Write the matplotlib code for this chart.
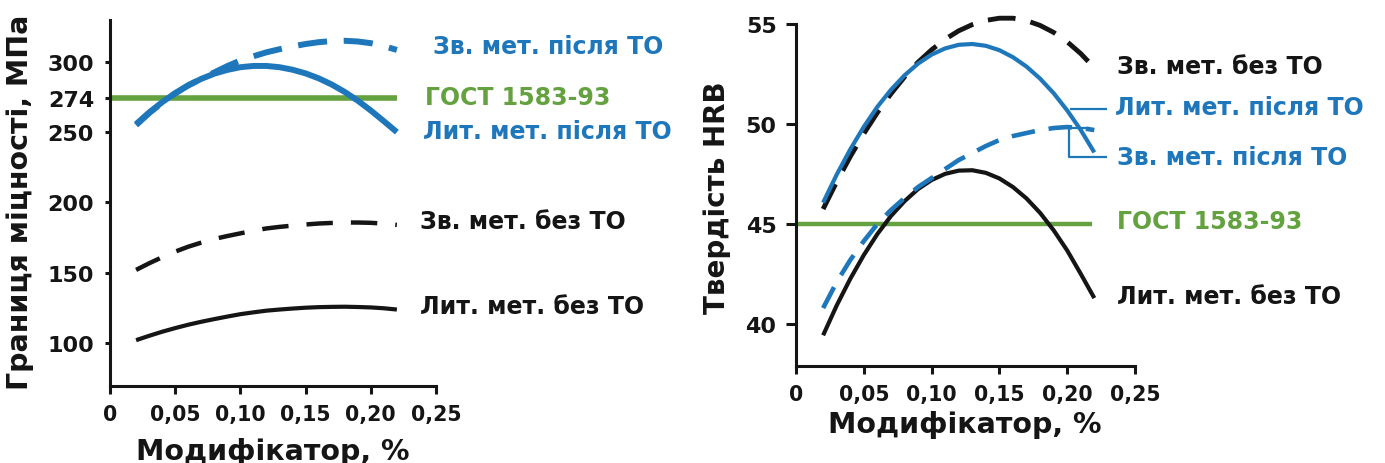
import numpy as np
import matplotlib
matplotlib.use('Agg')
from matplotlib import pyplot as plt

plt.rcParams['font.family'] = ['DejaVu Sans']
plt.rcParams['font.weight'] = 'bold'
plt.rcParams['lines.scale_dashes'] = False
plt.rcParams['lines.solid_capstyle'] = 'butt'
plt.rcParams['lines.solid_joinstyle'] = 'round'

BLUE = '#1f77bb'
GREEN = '#63a23f'
BLACK = '#151515'

# Модифікатор, %
x_mod = [0.02, 0.03, 0.04, 0.05, 0.06, 0.07, 0.08, 0.09, 0.10, 0.11, 0.12,
         0.13, 0.14, 0.15, 0.16, 0.17, 0.18, 0.19, 0.20, 0.21, 0.22]

# ліва панель: границя міцності, МПа
lit_bez_to = [102, 105.1, 108, 110.6, 113, 115.1, 117, 118.8, 120.5, 121.8, 123,
              123.8, 124.5, 125.1, 125.5, 125.7, 125.8, 125.6, 125.3, 124.7, 123.8]
zv_bez_to = [152, 156.7, 161, 165, 168.5, 171.4, 174, 176.1, 178, 179.9, 181.5,
             182.6, 183.5, 184.3, 185, 185.4, 185.7, 185.7, 185.5, 184.9, 184]
lit_pislya_to = [255.7, 264, 271.3, 277.8, 283.3, 287.9, 291.6, 294.3, 296.2, 297.1, 297.1,
                 296.2, 294.4, 291.8, 288.3, 283.9, 278.6, 272.4, 265.4, 257.8, 250]
zv_pislya_to = [255, 263.5, 271, 277.5, 283.3, 288, 292.5, 297, 301, 304, 306.8,
                309, 311, 312.7, 314, 314.8, 315, 314.5, 313.3, 311.2, 308.5]
gost_mpa = 274

# права панель: твердість HRB
hrb_lit_bez_to = [39.44, 40.93, 42.26, 43.45, 44.5, 45.4, 46.14, 46.75, 47.2, 47.51, 47.67,
                  47.69, 47.56, 47.28, 46.85, 46.28, 45.56, 44.69, 43.68, 42.51, 41.3]
hrb_zv_bez_to = [45.75, 47.11, 48.37, 49.52, 50.57, 51.51, 52.35, 53.09, 53.71, 54.24, 54.66,
                 54.97, 55.18, 55.29, 55.29, 55.17, 54.93, 54.58, 54.11, 53.52, 52.81]
hrb_lit_pislya_to = [46.07, 47.47, 48.73, 49.86, 50.86, 51.71, 52.43, 53.02, 53.47, 53.78, 53.96,
                     54.0, 53.91, 53.69, 53.34, 52.87, 52.27, 51.54, 50.68, 49.7, 48.58]
hrb_zv_pislya_to = [40.8, 42.1, 43.2, 44.15, 45.0, 45.7, 46.3, 46.85, 47.3, 47.75, 48.2,
                    48.55, 48.9, 49.2, 49.4, 49.55, 49.7, 49.8, 49.85, 49.8, 49.7]
gost_hrb = 45

x_ticks = [0, 0.05, 0.10, 0.15, 0.20, 0.25]
x_tick_labels = ['0', '0,05', '0,10', '0,15', '0,20', '0,25']
y_ticks_mpa = [100, 150, 200, 250, 274, 300]
y_ticks_hrb = [40, 45, 50, 55]

W, H = 1385, 464
fig = plt.figure(figsize=(W / 100, H / 100), dpi=100)


def px_axes(x0, x1, ytop, ybot):
    return fig.add_axes([x0 / W, 1 - ybot / H, (x1 - x0) / W, (ybot - ytop) / H])


def style(ax, yticks, ylen, ypad):
    for s in ['top', 'right']:
        ax.spines[s].set_visible(False)
    for s in ['left', 'bottom']:
        ax.spines[s].set_linewidth(2.2)
        ax.spines[s].set_color(BLACK)
    ax.set_xlim(0, 0.25)
    ax.set_xticks(x_ticks)
    ax.set_xticklabels(x_tick_labels)
    ax.set_yticks(yticks)
    ax.tick_params(direction='out', width=2.2, colors=BLACK)
    ax.tick_params(axis='x', length=6, labelsize=14.8, pad=7)
    ax.tick_params(axis='y', length=ylen, labelsize=16, pad=ypad)
    ax.patch.set_alpha(0)


# --- ліва панель
ax1 = px_axes(110, 436, 20.7, 387)
ax1.set_ylim(69.4, 330)
style(ax1, y_ticks_mpa, 3.5, 8)
ax1.plot([0, 0.22], [gost_mpa, gost_mpa], color=GREEN, lw=4, zorder=1)
ax1.plot(x_mod, lit_bez_to, color=BLACK, lw=3)
ax1.plot(x_mod, zv_bez_to, color=BLACK, lw=3.2, dashes=(19, 13))
ax1.plot(x_mod, zv_pislya_to, color=BLUE, lw=4.3, dashes=(21, 12))
ax1.plot(x_mod, lit_pislya_to, color=BLUE, lw=4.3)

fs = 17
ax1.text(0.2477, 311, 'Зв. мет. після ТО', color=BLUE, fontsize=fs, va='center', clip_on=False)
ax1.text(0.2416, 274.8, 'ГОСТ 1583-93', color=GREEN, fontsize=fs, va='center', clip_on=False)
ax1.text(0.2400, 250.7, 'Лит. мет. після ТО', color=BLUE, fontsize=fs, va='center', clip_on=False)
ax1.text(0.2377, 186.7, 'Зв. мет. без ТО', color=BLACK, fontsize=fs, va='center', clip_on=False)
ax1.text(0.2377, 126.3, 'Лит. мет. без ТО', color=BLACK, fontsize=fs, va='center', clip_on=False)

# --- права панель
ax2 = px_axes(796, 1135, 25, 366.7)
ax2.set_ylim(37.92, 55)
style(ax2, y_ticks_hrb, 7, 7)
ax2.plot([0, 0.218], [gost_hrb, gost_hrb], color=GREEN, lw=3.2, zorder=1)
ax2.plot(x_mod, hrb_lit_bez_to, color=BLACK, lw=3)
ax2.plot(x_mod, hrb_zv_pislya_to, color=BLUE, lw=3.3, dashes=(17, 10), clip_on=False)
ax2.plot(x_mod, hrb_zv_bez_to, color=BLACK, lw=3.5, dashes=(20, 11), clip_on=False)
ax2.plot(x_mod, hrb_lit_pislya_to, color=BLUE, lw=3)

# виноски
ax2.plot([0.202, 0.2294], [50.75, 50.75], color=BLUE, lw=1.6, clip_on=False)
ax2.plot([0.2169, 0.2015, 0.2015, 0.2294], [49.8, 49.8, 48.35, 48.35],
         color=BLUE, lw=1.6, clip_on=False)

ax2.text(0.2368, 52.9, 'Зв. мет. без ТО', color=BLACK, fontsize=fs, va='center', clip_on=False)
ax2.text(0.2353, 50.85, 'Лит. мет. після ТО', color=BLUE, fontsize=fs, va='center', clip_on=False)
ax2.text(0.2368, 48.35, 'Зв. мет. після ТО', color=BLUE, fontsize=fs, va='center', clip_on=False)
ax2.text(0.2368, 45.15, 'ГОСТ 1583-93', color=GREEN, fontsize=fs, va='center', clip_on=False)
ax2.text(0.2368, 41.4, 'Лит. мет. без ТО', color=BLACK, fontsize=fs, va='center', clip_on=False)

# підписи осей
fig.text(273 / W, 1 - 460 / H, 'Модифікатор, %', fontsize=20.5, ha='center',
         va='baseline', color=BLACK)
fig.text(965 / W, 1 - 433 / H, 'Модифікатор, %', fontsize=20.5, ha='center',
         va='baseline', color=BLACK)
fig.text(20 / W, 1 - 202 / H, 'Границя міцності, МПа', fontsize=20.5,
         rotation=90, ha='center', va='center', color=BLACK)
fig.text(717 / W, 1 - 198 / H, 'Твердість HRB', fontsize=20, rotation=90,
         ha='center', va='center', color=BLACK)

fig.savefig('out.png', dpi=100, facecolor='white')
